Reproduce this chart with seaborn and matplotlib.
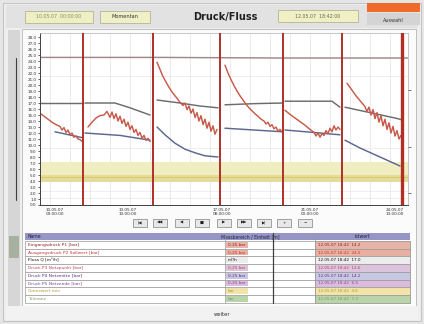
import matplotlib
matplotlib.use("Agg")
import matplotlib.pyplot as plt
from matplotlib.patches import Rectangle
import pandas as pd
import seaborn as sns

sns.set_theme(style="white")
plt.rcParams['font.family'] = ['DejaVu Sans']

# ---------------- data ----------------
title = "Druck/Fluss"
event_times = [43, 113, 180, 243, 302, 362]          # hours
xtick_pos = [15, 88, 182, 270, 355]
xtick_labels = ["10.05.07\n09:00:00", "13.05.07\n10:00:00", "17.05.07\n08:00:00",
                "21.05.07\n00:00:00", "24.05.07\n13:00:00"]
ytick_vals = list(range(0, 29))
right_ticks = [19.2, 9.7, 2.0]
band_low, band_high = 3.8, 7.2
band_line = 4.6

druck_t = [
    [0, 4, 8, 12, 16, 20, 22, 24, 26, 28, 30, 32, 34, 36, 38, 40, 43],
    [48, 52, 56, 60, 64, 67, 70, 72, 74, 76, 78, 80, 82, 84, 86, 88, 90, 92, 94, 96, 98, 100, 102, 104, 106, 108, 110],
    [117, 119, 121, 123, 125, 128, 131, 134, 137, 140, 143, 145, 147, 149, 151, 153, 155, 157, 159, 161, 163, 165, 167, 169, 171, 173, 175, 177],
    [185, 188, 191, 194, 197, 200, 203, 206, 209, 212, 215, 218, 221, 224, 226, 228, 230, 232, 234, 236, 238, 240, 242],
    [245, 250, 255, 260, 265, 270, 274, 276, 278, 280, 282, 284, 286, 288, 290, 292, 294, 296, 298, 300],
    [307, 310, 313, 316, 319, 322, 325, 327, 329, 331, 333, 335, 337, 339, 341, 343, 345, 347, 349, 351, 353, 355, 357, 359, 361],
]
druck_v = [
    [15.3, 14.8, 14.3, 13.8, 13.4, 13.1, 12.5, 12.9, 12.1, 12.5, 11.7, 12.0, 11.3, 11.5, 11.0, 10.9, 10.5],
    [13.0, 13.8, 14.5, 14.9, 15.0, 15.6, 14.6, 15.5, 14.4, 15.2, 14.0, 14.8, 13.6, 14.3, 13.1, 13.8, 12.6, 13.2, 12.1, 12.6, 11.6, 12.1, 11.1, 11.6, 10.8, 11.1, 10.6],
    [23.8, 23.0, 22.2, 21.4, 20.8, 19.9, 19.1, 18.4, 17.8, 17.1, 16.6, 17.0, 15.9, 16.5, 15.3, 16.0, 14.6, 15.4, 14.0, 14.9, 13.4, 14.3, 12.8, 13.8, 12.3, 13.2, 11.8, 12.6],
    [23.3, 22.0, 20.9, 19.9, 19.0, 18.2, 17.5, 16.8, 16.2, 15.7, 15.2, 14.8, 14.3, 14.0, 13.5, 13.8, 13.1, 13.4, 12.7, 13.0, 12.3, 12.6, 12.2],
    [15.8, 15.1, 14.5, 13.9, 13.3, 12.6, 12.1, 11.5, 12.0, 11.3, 11.9, 11.6, 12.4, 11.9, 12.8, 12.2, 13.2, 12.5, 13.0, 12.6],
    [20.3, 19.6, 18.9, 18.2, 17.6, 17.0, 16.4, 15.6, 16.3, 15.0, 15.9, 14.4, 15.4, 13.8, 14.9, 13.2, 14.3, 12.6, 13.7, 12.0, 13.1, 11.5, 12.4, 11.0, 11.6],
]
max_t = [[0, 120, 240, 368]]
max_v = [[24.6, 24.6, 24.5, 24.5]]
mitte_t = [[0, 43], [45, 75, 90, 110], [117, 140, 160, 178], [185, 215, 243], [245, 292, 300], [305, 330, 355, 362]]
mitte_v = [[17.0, 17.0], [17.0, 17.0, 16.2, 15.0], [17.5, 17.0, 16.5, 16.2], [16.7, 16.9, 17.0], [17.3, 17.3, 16.3], [16.3, 15.4, 14.5, 14.2]]
ende_t = [[15, 43], [45, 80, 110], [117, 125, 135, 145, 155, 165, 178], [185, 243], [245, 280, 300], [305, 320, 340, 360]]
ende_v = [[12.2, 11.2], [12.0, 11.6, 10.8], [13.0, 11.7, 10.3, 9.3, 8.7, 8.2, 8.0], [12.8, 12.2], [12.5, 12.0, 11.7], [10.8, 9.5, 8.0, 6.5]]

table_header = ["Name", "Messbereich / Einheit [m]", "", "Istwert"]
table_col1 = ["Eingangsdruck P1 [bar]", "Ausgangsdruck P2 Sollwert [bar]", "Fluss Q [m³/h]",
              "Druck P3 Netzpunkt [bar]", "Druck P4 Netzmitte [bar]", "Druck P5 Netzende [bar]",
              "Grenzwert min", "Toleranz"]
table_col2 = ["0-25 bar", "0-25 bar", "m³/h", "0-25 bar", "0-25 bar", "0-25 bar", "bar", "bar"]
table_col4 = ["12.05.07 18:42  14.2", "12.05.07 18:42  24.5", "12.05.07 18:42  17.0",
              "12.05.07 18:42  12.6", "12.05.07 18:42  14.2", "12.05.07 18:42  6.5",
              "12.05.07 18:42  4.6", "12.05.07 18:42  7.2"]
row_text_colors = ['#902020', '#d03030', '#101010', '#c04060', '#603080', '#8040a0', '#a89a30', '#7a9a60']
row_cell_colors = ['#e8b4a8', '#e8b0a0', '#ececec', '#dcc4dc', '#c8c8e4', '#dcbcdc', '#f2e4a8', '#b8d4a8']
buttons = ["|◀", "◀◀", "◀", "■", "▶", "▶▶", "▶|", "+", "−"]

# ---------------- figure ----------------
W, H = 424, 324
fig = plt.figure(figsize=(W / 100, H / 100), dpi=100)
fig.patch.set_facecolor('#e6e6e6')
bg = fig.add_axes([0, 0, 1, 1])
bg.set_xlim(0, W)
bg.set_ylim(H, 0)
bg.axis('off')


def rect(x, y, w, h, fc, ec='none', lw=0.5, z=1):
    bg.add_patch(Rectangle((x, y), w, h, facecolor=fc, edgecolor=ec, lw=lw, zorder=z))


# panels
rect(3, 3, 418, 318, '#efefef', '#c4c4c4', 0.8)
rect(6, 5, 412, 23, '#e2e2e2')
rect(22, 29, 394, 277, '#fbfbfb', '#b8b8b8', 0.6)
rect(8, 30, 12, 276, '#d6d6d6')
bg.plot([16, 16], [58, 200], color='#404040', lw=0.8)
rect(9, 236, 10, 22, '#a8b0a0')
rect(6, 306, 412, 14, '#f2f2f2')

# header boxes
rect(25, 11, 68, 12, '#eef0c4', '#b4b494', 0.6)
bg.text(59, 17, "10.05.07  00:00:00", fontsize=3.4, color='#8a8a6a', ha='center', va='center')
rect(100, 11, 50, 12, '#f0f0c8', '#b4b494', 0.6)
bg.text(125, 17, "Momentan", fontsize=3.6, color='#303030', ha='center', va='center')
bg.text(225, 17, title, fontsize=7.0, fontweight='bold', color='#202020', ha='center', va='center')
rect(278, 10, 80, 12, '#f0f0c4', '#b4b494', 0.6)
bg.text(318, 16, "12.05.07  18:42:00", fontsize=3.4, color='#6a6a5a', ha='center', va='center')
rect(367, 3, 53, 9, '#f06a28')
rect(367, 13, 53, 12, '#d4d4d4')
bg.text(393, 20, "Auswahl", fontsize=3.6, color='#303030', ha='center', va='center')

# buttons
bx = [133, 153, 175, 195, 217, 237, 257, 277, 298]
for x, lab in zip(bx, buttons):
    rect(x, 219, 14, 8, '#e8e8e8', '#808080', 0.5, z=2)
    bg.text(x + 7, 223, lab, fontsize=3.0, color='#202020', ha='center', va='center', zorder=3)

# table
rect(25, 233, 385, 7, '#9696c6', z=2)
bg.text(28, 236.5, table_header[0], fontsize=3.3, color='#202040', va='center', zorder=3)
bg.text(250, 236.5, table_header[1], fontsize=3.3, color='#202040', ha='center', va='center', zorder=3)
bg.text(362, 236.5, table_header[3], fontsize=3.3, color='#202040', ha='center', va='center', zorder=3)
row_h = 7.7
for i in range(len(table_col1)):
    y0 = 241 + i * row_h
    rect(25, y0, 385, row_h, '#ffffff', '#9a9a9a', 0.5, z=2)
    rect(315, y0, 95, row_h, row_cell_colors[i], '#9a9a9a', 0.5, z=2)
    rect(226, y0 + 1, 22, row_h - 2, row_cell_colors[i], z=2)
    bg.text(28, y0 + row_h / 2, table_col1[i], fontsize=3.2, color=row_text_colors[i], va='center', zorder=3)
    bg.text(228, y0 + row_h / 2, table_col2[i], fontsize=3.0, color=row_text_colors[i], va='center', zorder=3)
    bg.text(318, y0 + row_h / 2, table_col4[i], fontsize=3.0, color=row_text_colors[i], va='center', zorder=3)
for x, c, lw in [(225, '#9a9a9a', 0.5), (273, '#404040', 0.9), (315, '#9a9a9a', 0.5)]:
    bg.plot([x, x], [233, 241 + 8 * row_h], color=c, lw=lw, zorder=4)
bg.text(222, 314, "weiter", fontsize=3.8, color='#303030', ha='center', va='center')

# ---------------- main chart ----------------
ax = fig.add_axes([40 / W, 1 - 205 / H, 368 / W, 172 / H])
ax.set_facecolor('#ffffff')
ax.set_xlim(0, 368)
ax.set_ylim(0, 28.67)

for t in range(10, 368, 20):
    ax.axvline(t, color='#e6e0e8', lw=0.5, zorder=0)
for y in [1.2, 2.3, 9.5, 21.5]:
    ax.axhline(y, color='#e8e8e8', lw=0.5, zorder=0)
ax.axhspan(band_low, band_high, color='#f0eec0', lw=0, zorder=0.5)
ax.axhspan(band_low, band_line + 0.4, color='#e4dc98', lw=0, zorder=0.6)
ax.axhline(band_line, color='#d6ca78', lw=0.8, zorder=0.7)

rows = []
for name, ts, vs in [("max", max_t, max_v), ("mitte", mitte_t, mitte_v),
                     ("ende", ende_t, ende_v), ("druck", druck_t, druck_v)]:
    for i, (tt, vv) in enumerate(zip(ts, vs)):
        for a, b in zip(tt, vv):
            rows.append({"t": a, "v": b, "series": name, "seg": f"{name}{i}"})
df = pd.DataFrame(rows)
pal = {"max": "#a08888", "mitte": "#6c6c6c", "ende": "#5a6890", "druck": "#c85a4a"}
sns.lineplot(data=df, x="t", y="v", hue="series", units="seg", estimator=None, sort=False,
             palette=pal, legend=False, ax=ax, lw=1.05)

for i, t in enumerate(event_times):
    ax.axvline(t, color='#b03028', lw=2.4 if i == len(event_times) - 1 else 1.4, zorder=3)

ax.set_xticks(xtick_pos)
ax.set_xticklabels(xtick_labels, fontsize=3.0, color='#303030', linespacing=0.9)
ax.set_yticks(ytick_vals)
ax.set_yticklabels([f"{v:.1f}" for v in ytick_vals], fontsize=3.0, color='#303030')
ax.tick_params(axis='both', length=1.5, width=0.5, pad=1)
ax.set_xlabel("")
ax.set_ylabel("")
for s in ['left', 'bottom']:
    ax.spines[s].set_color('#404040')
    ax.spines[s].set_linewidth(0.7)
for s in ['top', 'right']:
    ax.spines[s].set_color('#b0b0b0')
    ax.spines[s].set_linewidth(0.5)

ax2 = ax.twinx()
ax2.set_ylim(0, 28.67)
ax2.set_yticks(right_ticks)
ax2.set_yticklabels(["" for _ in right_ticks])
ax2.tick_params(axis='y', length=2, width=0.5, colors='#404040')
for s in ax2.spines.values():
    s.set_visible(False)

fig.savefig("out.png", dpi=100, facecolor=fig.get_facecolor())
